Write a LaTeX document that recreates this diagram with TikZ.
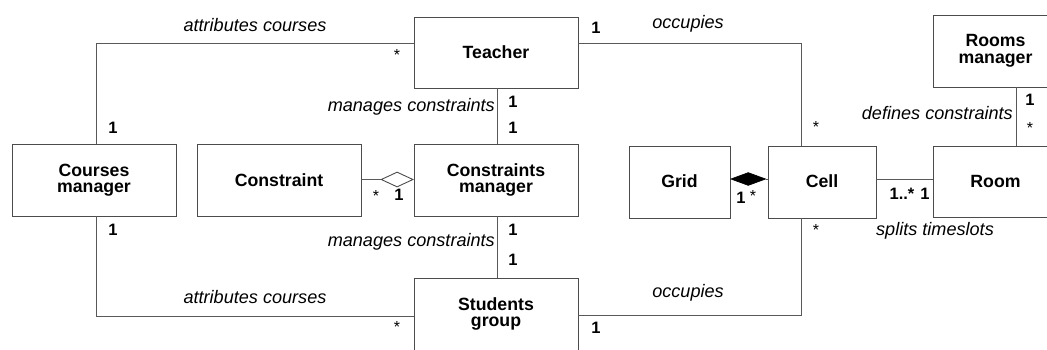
\documentclass[tikz,border=0pt]{standalone}
\usepackage{fontspec}
\setmainfont{Liberation Sans}
\usetikzlibrary{shapes.geometric}
\begin{document}
\begin{tikzpicture}[x=1pt,y=-1pt,
  box/.style={draw=black!70,line width=0.9pt,rectangle,inner sep=0pt,align=center,
    font=\fontsize{17.7}{16.5}\selectfont\bfseries},
  conn/.style={draw=black!65,line width=0.9pt},
  lbl/.style={inner sep=0pt,font=\fontsize{18.1}{18}\selectfont\itshape},
  mult/.style={inner sep=0pt,font=\fontsize{16.5}{16}\selectfont\bfseries},
  star/.style={inner sep=0pt,font=\fontsize{16}{16}\selectfont}]
\useasboundingbox (0,0) rectangle (1047,349);
\begin{scope}
\clip (0,0) rectangle (1047,349);
% boxes
\node[box,minimum width=164pt,minimum height=71pt] (teacher) at (496,52.5) {Teacher};
\node[box,minimum width=164pt,minimum height=72pt] (courses) at (94,180) {Courses\\manager};
\node[box,minimum width=164pt,minimum height=72pt] (constraint) at (279,180) {Constraint};
\node[box,minimum width=164pt,minimum height=72pt] (cmanager) at (496,180) {Constraints\\manager};
\node[box,minimum width=164pt,minimum height=72pt] (students) at (496,314) {Students\\group};
\node[box,minimum width=101pt,minimum height=72pt] (grid) at (679.5,182) {\raisebox{2pt}{Grid}};
\node[box,minimum width=108pt,minimum height=72pt] (cell) at (822,182) {\raisebox{2pt}{Cell}};
\node[box,minimum width=125pt,minimum height=71pt] (room) at (995.5,182) {\raisebox{2pt}{Room}};
\node[box,minimum width=125pt,minimum height=72pt] (rmanager) at (995.5,51) {Rooms\\manager};
% diamonds
\node[diamond,draw=black!70,line width=0.9pt,fill=white,inner sep=0pt,minimum width=32pt,minimum height=15pt,anchor=east] (hd) at (cmanager.west |- 0,179.5) {};
\node[diamond,draw=black,fill=black,line width=0.6pt,inner sep=0pt,minimum width=35pt,minimum height=13pt,anchor=west] (fd) at (grid.east |- 0,179) {};
% connectors
\draw[conn] (teacher.west |- 0,43) -| ([xshift=2pt]courses.north);
\draw[conn] ([xshift=1pt]teacher.south) -- ([xshift=1pt]cmanager.north);
\draw[conn] ([xshift=1pt]cmanager.south) -- ([xshift=1pt]students.north);
\draw[conn] ([xshift=2pt]courses.south) |- (students.west |- 0,316);
\draw[conn] (constraint.east |- hd.west) -- (hd.west);
\draw[conn] (teacher.east |- 0,43) -| ([xshift=-21pt]cell.north);
\draw[conn] (students.east |- 0,315) -| ([xshift=-21pt]cell.south);
\draw[conn] (fd.east) -- (cell.west |- fd.east);
\draw[conn] (cell.east |- 0,179) -- (room.west |- 0,179);
\draw[conn] ([xshift=20.5pt]rmanager.south) -- ([xshift=20.5pt]room.north);
\end{scope}
% association labels
\node[lbl] (l1) at (255,25) {attributes courses};
\node[lbl] (l2) at (255,297) {attributes courses};
\node[lbl,anchor=east] (l3) at (495,107) {manages constraints};
\node[lbl,anchor=east] (l4) at (495,242) {manages constraints};
\node[lbl] (l5) at (688,24) {occupies};
\node[lbl] (l6) at (688,293) {occupies};
\node[lbl,anchor=east] (l7) at (1013,113) {defines constraints};
\node[lbl] (l8) at (935,231) {splits timeslots};
% multiplicities
\node[star] (m1) at (397,55) {*};
\node[mult] (m2) at (113,128) {1};
\node[mult] (m3) at (513,102) {1};
\node[mult] (m4) at (513,128) {1};
\node[mult] (m5) at (113,230) {1};
\node[mult] (m6) at (513,230) {1};
\node[mult] (m7) at (513,260) {1};
\node[star] (m8) at (397,327) {*};
\node[star] (m9) at (376,196) {*};
\node[mult] (m10) at (399,195) {1};
\node[mult] (m11) at (596,28) {1};
\node[star] (m12) at (816,127) {*};
\node[mult] (m13) at (741,198) {1};
\node[star] (m14) at (753,196) {*};
\node[mult] (m15) at (902,194) {1..*};
\node[mult] (m16) at (925,194) {1};
\node[star] (m17) at (816,230) {*};
\node[mult] (m18) at (596,328) {1};
\node[mult] (m19) at (1030,100) {1};
\node[star] (m20) at (1030,128) {*};
\end{tikzpicture}
\end{document}
